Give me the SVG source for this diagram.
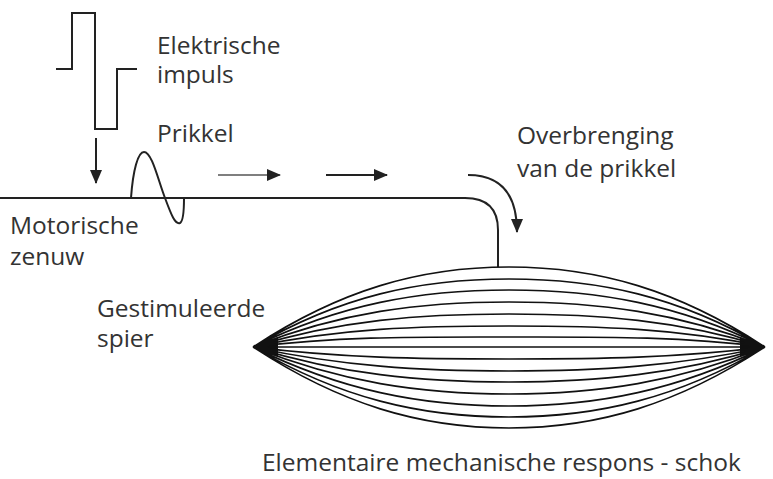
<svg xmlns="http://www.w3.org/2000/svg" width="773" height="479" viewBox="0 0 773 479">
<style>
text{font-family:"Open Sans","Liberation Sans",sans-serif;font-size:24.5px;fill:#333}
.l{fill:none;stroke:#222;stroke-width:2}
.m{fill:none;stroke:#111;stroke-width:1.6}
</style>
<defs>
<marker id="b" markerWidth="14" markerHeight="12" refX="13" refY="6" orient="auto" markerUnits="userSpaceOnUse"><path d="M0,0L14,6L0,12z" fill="#222"/></marker></defs>
<rect width="773" height="479" fill="#fff"/>
<g id="pulse"><path class="l" d="M56,69H72V13H95V129H117V69H137"/></g>
<g id="sine"><path class="l" d="M131,198C133,170 138,152 144,152C152,152 158,180 165,198C171,214 175,225 180,223C184,221 184,205 184,198"/></g>
<g id="nerve"><path class="l" d="M0,198H465Q498,198 498,230V267"/></g>
<g id="muscle">
<path d="M253,347L278,337L278,357z M765,347L740,337L740,357z" fill="#111"/>
<path class="m" d="M253,347C340,290 420,267 509,267C598,267 678,290 765,347M253,347C340,296 420,279 509,279C598,279 678,296 765,347M253,347C340,304 420,290 509,290C598,290 678,304 765,347M253,347C340,312 420,302 509,302C598,302 678,312 765,347M253,347C340,320 420,314 509,314C598,314 678,320 765,347M253,347C340,328 420,326 509,326C598,326 678,328 765,347M253,347C340,336 420,337 509,337C598,337 678,336 765,347M253,347H765M253,347C340,358 420,359 509,359C598,359 678,358 765,347M253,347C340,366 420,371 509,371C598,371 678,366 765,347M253,347C340,374 420,382 509,382C598,382 678,374 765,347M253,347C340,382 420,394 509,394C598,394 678,382 765,347M253,347C340,390 420,406 509,406C598,406 678,390 765,347M253,347C340,398 420,417 509,417C598,417 678,398 765,347M253,347C340,404 420,428 509,428C598,428 678,404 765,347"/>
</g>
<g id="connectors">
<path class="l" d="M96,138V183" marker-end="url(#b)"/>
<path d="M218,175H280" stroke="#555" stroke-width="1.5" marker-end="url(#b)"/>
<path d="M326,175H387" stroke="#222" stroke-width="2" marker-end="url(#b)"/>
<path class="l" d="M468,175Q517,175 517,232" marker-end="url(#b)"/>
</g>
<g id="labels">
<text x="157" y="54">Elektrische</text><text x="157" y="83">impuls</text>
<text x="157" y="142">Prikkel</text>
<text x="517" y="144">Overbrenging</text><text x="517" y="177">van de prikkel</text>
<text x="10" y="234">Motorische</text><text x="10" y="265">zenuw</text>
<text x="97" y="317">Gestimuleerde</text><text x="97" y="347">spier</text>
<text x="262" y="471">Elementaire mechanische respons - schok</text>
</g>
</svg>
